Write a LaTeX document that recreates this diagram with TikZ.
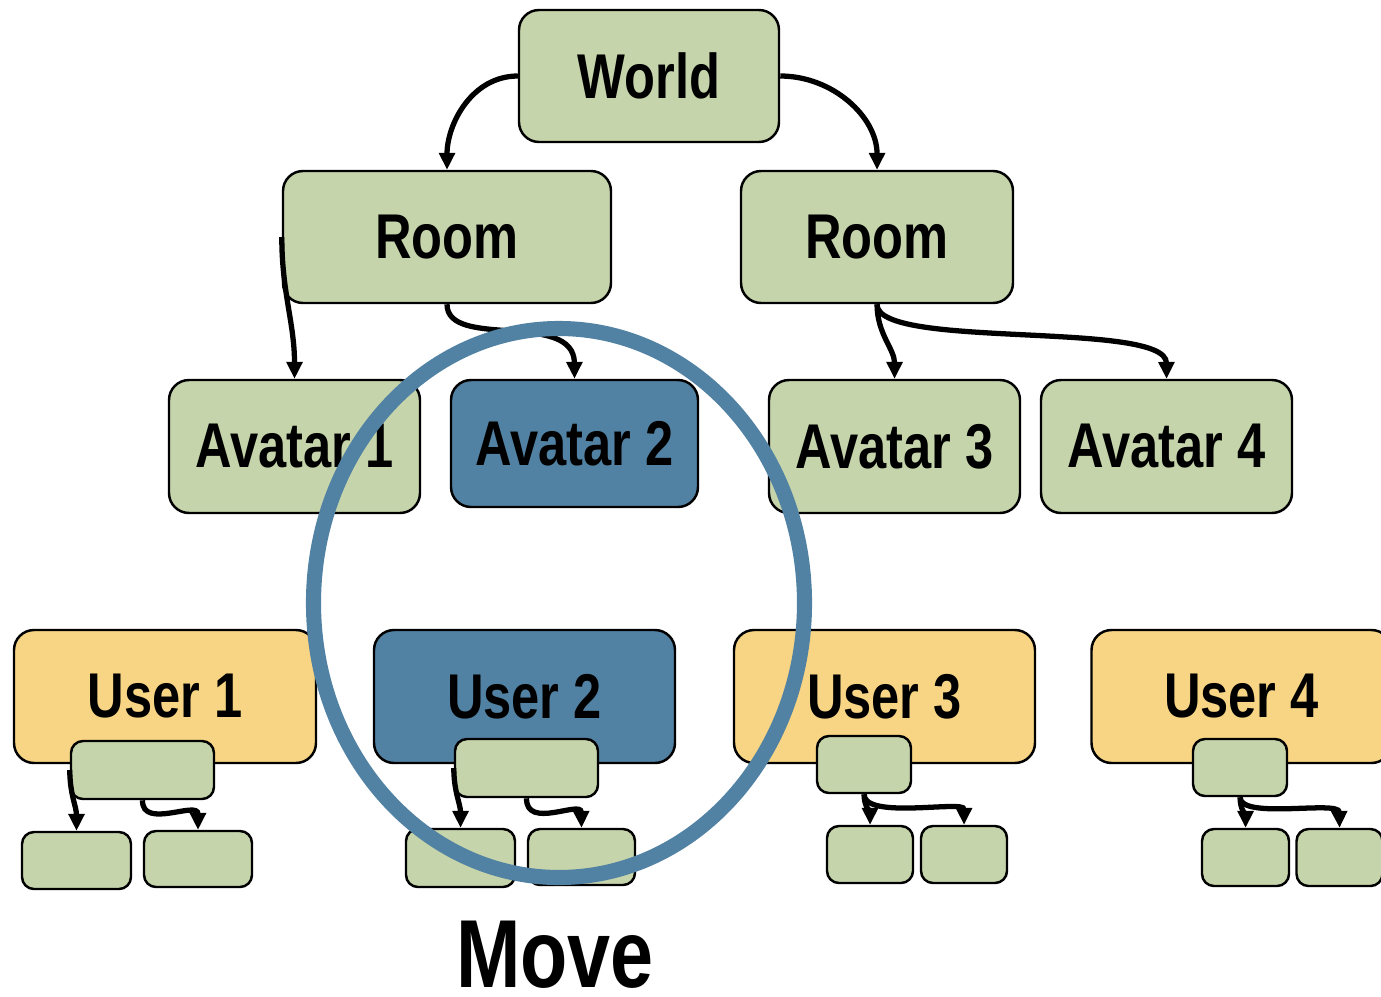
\documentclass[tikz,border=0pt]{standalone}
\usepackage{fontspec}
\setmainfont{Liberation Sans}[FakeStretch=0.8]
\usetikzlibrary{arrows.meta}

\definecolor{nodegreen}{HTML}{C5D4AA}
\definecolor{useryellow}{HTML}{F7D584}
\definecolor{moveblue}{HTML}{5282A3}

\begin{document}
\begin{tikzpicture}[scale=0.1]
            \tikzstyle{every node}+=[inner sep=0pt]
            \tikzstyle{box}=[draw=black, line width=0.7pt, rounded corners=2mm, font=\fontsize{18}{20}\selectfont\bfseries]
            \tikzstyle{tree}=[box, fill=nodegreen]
            \tikzstyle{user}=[box, fill=useryellow]
            \tikzstyle{moved}=[box, fill=moveblue]
            \tikzstyle{part}=[draw=black, line width=0.7pt, rounded corners=1.2mm, fill=nodegreen]
            \tikzstyle{link}=[black, line width=1.5pt, -{Triangle[length=4.8pt, width=4.4pt]}]
            \useasboundingbox (0,0) rectangle (138.1,-99.6);
            \clip (0,0) rectangle (138.1,-99.6);
            % world and rooms
            \node [tree, minimum width=2.60cm, minimum height=1.32cm] (world) at (64.9,-7.6) {World};
            \node [tree, minimum width=3.28cm, minimum height=1.32cm] (roomL) at (44.7,-23.7) {Room};
            \node [tree, minimum width=2.72cm, minimum height=1.32cm] (roomR) at (87.7,-23.7) {Room};
            % avatars
            \node [tree, minimum width=2.51cm, minimum height=1.33cm] (av1) at (29.45,-44.65) {Avatar 1};
            \node [moved, minimum width=2.47cm, minimum height=1.27cm] (av2) at (57.45,-44.35) {Avatar 2};
            \node [tree, minimum width=2.51cm, minimum height=1.33cm] (av3) at (89.45,-44.65) {Avatar 3};
            \node [tree, minimum width=2.51cm, minimum height=1.33cm] (av4) at (116.65,-44.65) {Avatar 4};
            % users
            \node [user, minimum width=3.02cm, minimum height=1.33cm] (user1) at (16.5,-69.65) {User 1};
            \node [moved, minimum width=3.01cm, minimum height=1.33cm] (user2) at (52.45,-69.65) {User 2};
            \node [user, minimum width=3.01cm, minimum height=1.33cm] (user3) at (88.45,-69.65) {User 3};
            \node [user, minimum width=3.00cm, minimum height=1.33cm] (user4) at (124.15,-69.65) {User 4};
            % small parts under each user
            \node [part, minimum width=1.43cm, minimum height=0.58cm] (sub1) at (14.25,-77.0) {};
            \node [part, minimum width=1.09cm, minimum height=0.57cm] (s1a) at (7.65,-86.05) {};
            \node [part, minimum width=1.08cm, minimum height=0.56cm] (s1b) at (19.8,-85.9) {};
            \node [part, minimum width=1.43cm, minimum height=0.58cm] (sub2) at (52.65,-76.8) {};
            \node [part, minimum width=1.09cm, minimum height=0.58cm] (s2a) at (46.05,-85.8) {};
            \node [part, minimum width=1.07cm, minimum height=0.56cm] (s2b) at (58.15,-85.7) {};
            \node [part, minimum width=0.94cm, minimum height=0.57cm] (sub3) at (86.4,-76.45) {};
            \node [part, minimum width=0.86cm, minimum height=0.57cm] (s3a) at (87.0,-85.45) {};
            \node [part, minimum width=0.86cm, minimum height=0.57cm] (s3b) at (96.4,-85.45) {};
            \node [part, minimum width=0.94cm, minimum height=0.57cm] (sub4) at (124.0,-76.75) {};
            \node [part, minimum width=0.87cm, minimum height=0.57cm] (s4a) at (124.55,-85.75) {};
            \node [part, minimum width=0.86cm, minimum height=0.57cm] (s4b) at (133.95,-85.75) {};
            % connectors
            \draw [link] (world.west) to[out=180, in=90] (roomL.north);
            \draw [link] (world.east) to[out=0, in=90] (roomR.north);
            \draw [link] (roomL.west) to[out=-90, in=90] (av1.north);
            \draw [link] (roomL.south) .. controls (44.7,-35) and (57.4,-31) .. (av2.north);
            \draw [link] (roomR.south) to[out=-90, in=90] (av3.north);
            \draw [link] (roomR.south) .. controls (87.6,-35) and (116.6,-32) .. (av4.north);
            \draw [link] (sub1.west) to[out=-90, in=90] (s1a.north);
            \draw [link] (sub1.south) .. controls (14.2,-83) and (19.8,-80) .. (s1b.north);
            \draw [link] (sub2.west) to[out=-90, in=90] (s2a.north);
            \draw [link] (sub2.south) .. controls (52.6,-83) and (58.1,-80) .. (s2b.north);
            \draw [link] (sub3.south) to[out=-90, in=90] (s3a.north);
            \draw [link] (sub3.south) .. controls (86.4,-82) and (96.4,-80) .. (s3b.north);
            \draw [link] (sub4.south) to[out=-90, in=90] (s4a.north);
            \draw [link] (sub4.south) .. controls (124.0,-82) and (133.9,-80) .. (s4b.north);
            % the ring round the moving user
            \draw [moveblue, line width=4.3pt] (55.9,-60.3) ellipse (24.55 and 27.45);
            \node [font=\fontsize{27.5}{30}\selectfont\bfseries] (move) at (55.5,-95.5) {Move};
\end{tikzpicture}
\end{document}
